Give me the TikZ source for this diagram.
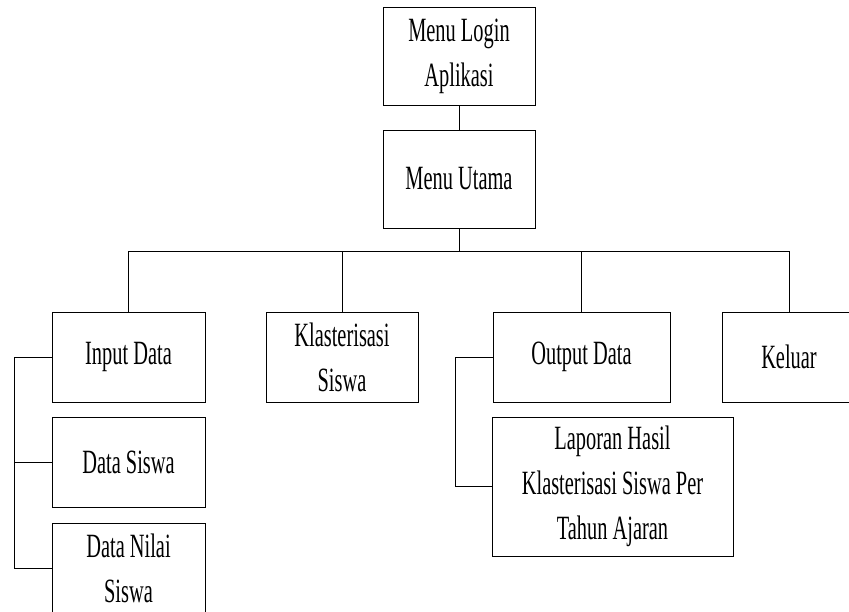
\documentclass[tikz,border=0pt]{standalone}
\usepackage{fontspec}
\newfontfamily\menufont[FakeStretch=0.6]{Liberation Serif}
\tikzset{menubox/.style={draw, line width=1pt, align=center, inner sep=0pt,
  font=\menufont\fontsize{34}{45}\selectfont}}

\begin{document}
\begin{tikzpicture}[x=1pt, y=-1pt, line width=0.8pt]
\useasboundingbox (0,0) rectangle (849,611);
\node [menubox, minimum width=152, minimum height=98] (login) at (459,56) {Menu Login\\Aplikasi};
\node [menubox, minimum width=152, minimum height=98] (utama) at (459,179) {Menu Utama};
\node [menubox, minimum width=153, minimum height=90] (input) at (128.5,357) {Input Data};
\node [menubox, minimum width=152, minimum height=90] (klaster) at (342,357) {Klasterisasi\\Siswa};
\node [menubox, minimum width=177, minimum height=90] (output) at (581.5,357) {Output Data};
\node [menubox, minimum width=134, minimum height=90] (keluar) at (789,357) {Keluar};
\node [menubox, minimum width=153, minimum height=90] (datasiswa) at (128.5,462) {Data Siswa};
\node [menubox, minimum width=153, minimum height=90] (datanilai) at (128.5,568) {Data Nilai\\Siswa};
\node [menubox, minimum width=241, minimum height=139] (laporan) at (612.5,486.5) {Laporan Hasil\\Klasterisasi Siswa Per\\Tahun Ajaran};
\coordinate (bus) at (459,251);
\draw (login) -- (utama);
\draw (utama) -- (bus);
\draw (input.north |- bus) -- (keluar.north |- bus);
\foreach \n in {input,klaster,output,keluar}
\draw (\n.north |- bus) -- (\n.north);
\draw (input.west) -- ++(-37,0) |- (datanilai.west);
\draw (datasiswa.west) -- ++(-37,0);
\draw (output.west) -- ++(-37,0) |- (laporan.west);
\end{tikzpicture}
\end{document}
